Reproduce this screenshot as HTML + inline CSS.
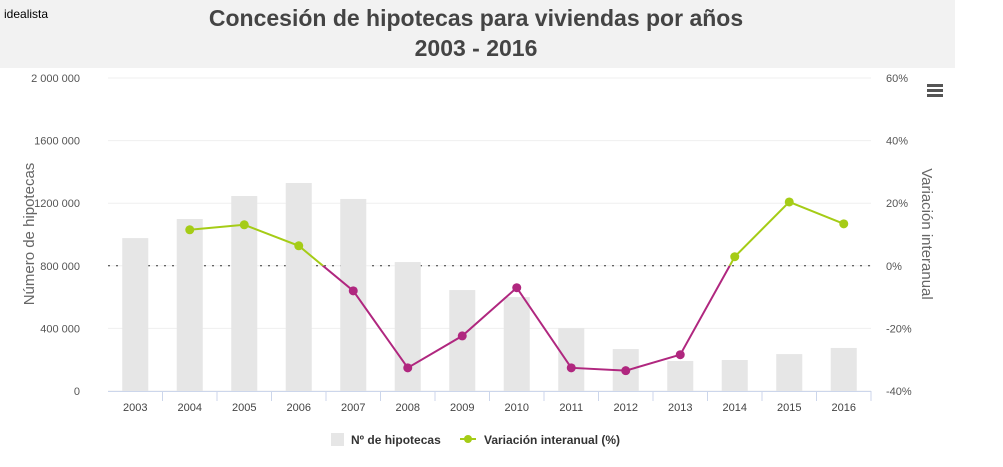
<!DOCTYPE html>
<html><head><meta charset="utf-8"><style>
body{margin:0;background:#fff;font-family:"Liberation Sans","DejaVu Sans",sans-serif;}
svg text{font-family:"Liberation Sans","DejaVu Sans",sans-serif;}
</style></head><body>
<svg id="c" width="1003" height="462" xmlns="http://www.w3.org/2000/svg">
<rect x="0" y="0" width="955" height="68" fill="#f2f2f2"/>
<text x="4" y="18" font-size="12" fill="#000">idealista</text>
<text x="476" y="26" text-anchor="middle" font-size="23" font-weight="bold" fill="#444">Concesión de hipotecas para viviendas por años</text>
<text x="476" y="56" text-anchor="middle" font-size="23" font-weight="bold" fill="#444">2003 - 2016</text>
<g><rect x="927" y="84" width="16" height="3" fill="#555"/><rect x="927" y="89" width="16" height="3" fill="#555"/><rect x="927" y="94" width="16" height="3" fill="#555"/></g>
<g id="grid"></g><g id="bars"></g><g id="axes"></g><g id="line"></g>
<text transform="translate(34,234) rotate(-90)" text-anchor="middle" font-size="15" fill="#666">Número de hipotecas</text>
<text transform="translate(922,234) rotate(90)" text-anchor="middle" font-size="15" fill="#666">Variación interanual</text>
<g><rect x="331" y="433" width="13" height="13" fill="#e6e6e6"/><text x="351" y="444" font-size="12" font-weight="bold" fill="#333">Nº de hipotecas</text></g>
<g><line x1="460" y1="439" x2="476" y2="439" stroke="#a5cc16" stroke-width="2"/><circle cx="468" cy="439" r="4" fill="#a5cc16"/><text x="484" y="444" font-size="12" font-weight="bold" fill="#333">Variación interanual (%)</text></g>
</svg>
<script>
const categories=["2003","2004","2005","2006","2007","2008","2009","2010","2011","2012","2013","2014","2015","2016"];
const hipotecas=[977000,1099000,1246000,1329000,1227000,824000,645000,600000,402000,268000,192000,198000,236000,275000];
const variacion=[null,11.5,13.1,6.4,-8,-32.6,-22.4,-7,-32.6,-33.5,-28.4,2.9,20.4,13.4];
const leftTicks=[0,400000,800000,1200000,1600000,2000000];
const leftTickLabels=["0","400 000","800 000","1200 000","1600 000","2 000 000"];
const rightTicks=[-40,-20,0,20,40,60];
const rightTickLabels=["-40%","-20%","0%","20%","40%","60%"];
const NS="http://www.w3.org/2000/svg";
const X0=108,X1=871,YT=78,YB=391;
const step=(X1-X0)/categories.length;
const xc=i=>X0+step*(i+0.5);
const yL=v=>YB-(v/2000000)*(YB-YT);
const yR=v=>YB-((v+40)/100)*(YB-YT);
function mk(tag,attrs,parent){const e=document.createElementNS(NS,tag);for(const k in attrs)e.setAttribute(k,attrs[k]);parent.appendChild(e);return e;}
const grid=document.getElementById('grid'),bars=document.getElementById('bars'),axes=document.getElementById('axes'),line=document.getElementById('line');
leftTicks.forEach((t,i)=>{
 const y=yL(t);
 const g=mk('line',{x1:X0,x2:X1,y1:y,y2:y,stroke:'#efefef'},grid);
 
 
 const tx=mk('text',{x:80,y:y+4,'text-anchor':'end','font-size':11,fill:'#555'},axes);
 tx.textContent=leftTickLabels[i];
 
 
});
rightTicks.forEach((t,i)=>{
 const tx=mk('text',{x:886,y:yR(t)+4,'font-size':11,fill:'#555'},axes);
 tx.textContent=rightTickLabels[i];
 
 
});
const zl=mk('line',{x1:X0,x2:X1,y1:yR(0),y2:yR(0),stroke:'#333','stroke-dasharray':'2,6','stroke-width':1},grid);


hipotecas.forEach((v,i)=>{
 const r=mk('rect',{x:xc(i)-13,y:yL(v),width:26,height:YB-yL(v),fill:'#e6e6e6'},bars);
 
 
});
const ax=mk('line',{x1:X0,x2:X1,y1:YB+0.5,y2:YB+0.5,stroke:'#ccd6eb'},axes);


categories.forEach((c,i)=>{
 const tk=mk('line',{x1:X0+step*(i+1),x2:X0+step*(i+1),y1:YB,y2:YB+10,stroke:'#ccd6eb'},axes);
 
 
 const t=mk('text',{x:xc(i),y:YB+20,'text-anchor':'middle','font-size':11,fill:'#444'},axes);
 t.textContent=c;
 
 
});
const defs=mk('defs',{},line);
const cpA=mk('clipPath',{id:'above'},defs);mk('rect',{x:0,y:0,width:1003,height:yR(0)},cpA);
const cpB=mk('clipPath',{id:'below'},defs);mk('rect',{x:0,y:yR(0),width:1003,height:462},cpB);
let d='';variacion.forEach((v,i)=>{if(v===null)return;d+=(d?'L':'M')+xc(i)+','+yR(v);});
[['above','#a5cc16'],['below','#b0277f']].forEach(([id,col])=>{
 const g=mk('g',{'clip-path':'url(#'+id+')'},line);
 const p=mk('path',{d:d,fill:'none',stroke:col,'stroke-width':2},g);
 
 
});
variacion.forEach((v,i)=>{
 if(v===null)return;
 const c=mk('circle',{cx:xc(i),cy:yR(v),r:4.5,fill:v>=0?'#a5cc16':'#b0277f'},line);
 
 
});
</script>
</body></html>
